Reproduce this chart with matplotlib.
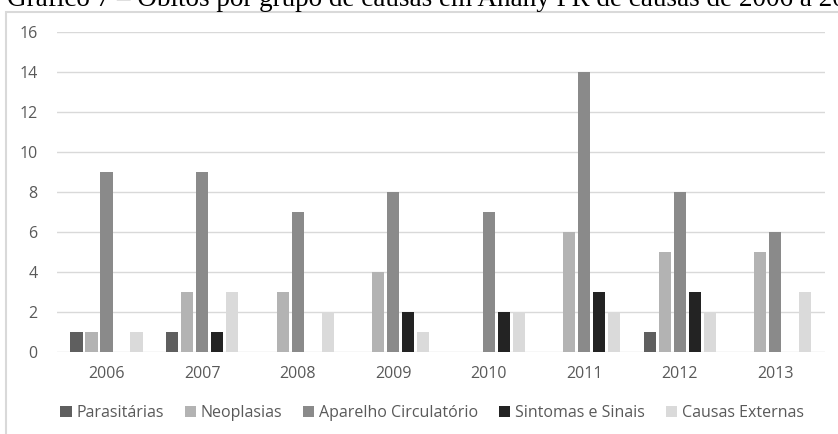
import numpy as np
import matplotlib.pyplot as plt
from matplotlib.patches import Rectangle

anos = ['2006', '2007', '2008', '2009', '2010', '2011', '2012', '2013']
parasitarias = [1, 1, 0, 0, 0, 0, 1, 0]
neoplasias = [1, 3, 3, 4, 0, 6, 5, 5]
circulatorio = [9, 9, 7, 8, 7, 14, 8, 6]
sintomas = [0, 1, 0, 2, 2, 3, 3, 0]
externas = [1, 3, 2, 1, 2, 2, 2, 3]

series = [
  ('Parasitárias', parasitarias, '#5f5f5f'),
  ('Neoplasias', neoplasias, '#b3b3b3'),
  ('Aparelho Circulatório', circulatorio, '#8a8a8a'),
  ('Sintomas e Sinais', sintomas, '#232323'),
  ('Causas Externas', externas, '#dadada'),
]

plt.rcParams['font.family'] = ['Open Sans', 'DejaVu Sans']

W, H = 838, 434
fig = plt.figure(figsize=(W / 100, H / 100), dpi=100)

# moldura cinza do grafico
fig.patches.append(Rectangle((6 / W, -0.05), 1.0, 1 - 12 / H + 0.05,
                             transform=fig.transFigure, fill=False,
                             edgecolor='#d9d9d9', linewidth=1.5))

# titulo (cortado no topo, como na pagina original)
fig.text(7 / W, 1 - 6 / H,
         'Gráfico 7 – Óbitos por grupo de causas em Anahy PR de causas de 2006 a 2013',
         family=['Liberation Serif', 'DejaVu Serif'], fontsize=19.5,
         va='baseline', ha='left', color='black')

ax = fig.add_axes([57 / W, 1 - 352 / H, (825 - 57) / W, (352 - 31.5) / H])

x = np.arange(len(anos))
step = 0.157
width = 0.126
for i, (nome, vals, cor) in enumerate(series):
  ax.bar(x + (i - 2) * step, vals, width, color=cor, label=nome, zorder=3)

ax.set_xlim(-0.518, 7.52)
ax.set_ylim(0, 16)
ax.set_yticks(range(0, 17, 2))
ax.set_xticks(x)
ax.set_xticklabels(anos)
ax.grid(axis='y', color='#d9d9d9', linewidth=1, zorder=0)
for s in ax.spines.values():
  s.set_visible(False)
ax.tick_params(axis='both', length=0, labelsize=11.5, colors='#595959')
ax.tick_params(axis='y', pad=14)
ax.tick_params(axis='x', pad=10)

leg = fig.legend(loc='center', bbox_to_anchor=(432 / W, 1 - 413 / H), ncol=5,
                 frameon=False, fontsize=11.5, handlelength=0.7, handleheight=0.7,
                 handletextpad=0.3, columnspacing=1.3, labelcolor='#595959')

fig.savefig('out.png', dpi=100)
